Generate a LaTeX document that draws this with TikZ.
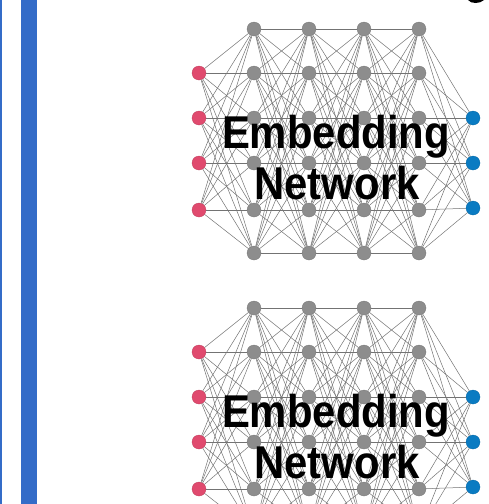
\documentclass[tikz,border=0pt]{standalone}
\usepackage{fontspec}
\usepackage{graphicx}
\newfontfamily\netfont{Liberation Sans}
\usetikzlibrary{calc}
\definecolor{barblue}{RGB}{52,108,200}
\definecolor{inred}{RGB}{224,74,110}
\definecolor{hidgray}{RGB}{141,141,141}
\definecolor{outblue}{RGB}{10,123,194}
\newcommand{\netlabel}[1]{\scalebox{0.91}[1]{#1}}

\begin{document}
\begin{tikzpicture}[x=1pt,y=-1pt]
\tikzstyle{inp}=[circle,fill=inred,draw=inred!85!black,line width=0.3pt,minimum size=14pt,inner sep=0pt]
\tikzstyle{hid}=[circle,fill=hidgray,draw=hidgray!85!black,line width=0.3pt,minimum size=14pt,inner sep=0pt]
\tikzstyle{outp}=[circle,fill=outblue,draw=outblue!85!black,line width=0.3pt,minimum size=14pt,inner sep=0pt]
\tikzstyle{edge}=[draw=black!55,line width=0.5pt]
\tikzstyle{title}=[font=\netfont\bfseries\fontsize{46}{50}\selectfont,inner sep=0pt,anchor=base]
\useasboundingbox (0,0) rectangle (489,504);
\clip (0,0) rectangle (489,504);
% side bars
\fill[barblue] (0,0) rectangle (2,504);
\fill[barblue] (21,0) rectangle (37,504);
% cropped mark, top right
\fill[black] (468,0) .. controls (471,4) and (480,4) .. (484,0) -- cycle;
% two embedding networks
\foreach \n/\dy in {1/0,2/279} {
  \foreach \r/\y in {1/29,2/73,3/118,4/163,5/210,6/253}
    \foreach \l/\x in {1/254,2/309,3/364,4/419}
      \node[hid] (H_\n_\l_\r) at (\x,\y+\dy) {};
  \foreach \r/\y in {1/73,2/118,3/163,4/210}
    \node[inp] (I_\n_\r) at (199,\y+\dy) {};
  \foreach \r/\y in {1/118,2/163,3/208}
    \node[outp] (O_\n_\r) at (473,\y+\dy) {};
  % connections
  \foreach \i in {1,...,4}
    \foreach \j in {1,...,6}
      \draw[edge] (I_\n_\i) -- (H_\n_1_\j);
  \foreach \l/\m in {1/2,2/3,3/4}
    \foreach \i in {1,...,6}
      \foreach \j in {1,...,6}
        \draw[edge] (H_\n_\l_\i) -- (H_\n_\m_\j);
  \foreach \i in {1,...,6}
    \foreach \j in {1,...,3}
      \draw[edge] (H_\n_4_\i) -- (O_\n_\j);
  % label
  \node[title] (E_\n) at (336,148+\dy) {\netlabel{Embedding}};
  \node[title] (N_\n) at (337,199+\dy) {\netlabel{Network}};
}
\end{tikzpicture}
\end{document}
